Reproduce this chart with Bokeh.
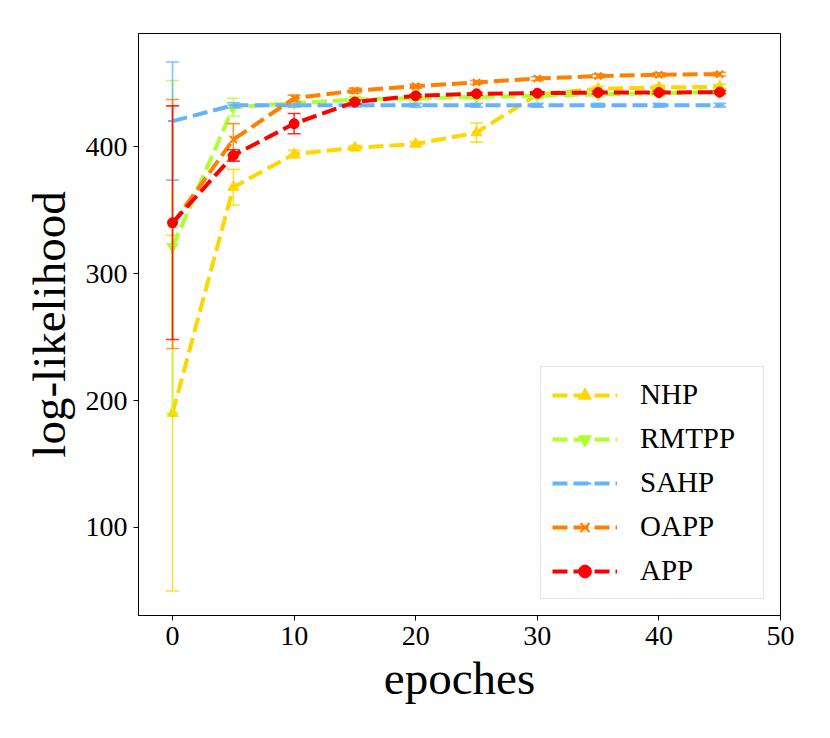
from bokeh.plotting import figure
from bokeh.models import Range1d, Legend, LegendItem, FixedTicker
from bokeh.embed import file_html
from bokeh.resources import INLINE

epochs = [0, 5, 10, 15, 20, 25, 30, 35, 40, 45]

nhp = [190, 368, 394, 399, 402, 411, 441, 445.5, 446.5, 447]
nhp_err = [140, 14, 3, 2, 2, 7.5, 2, 2, 2, 2]

rmtpp = [321, 431, 434, 437, 438, 439, 440, 441, 442, 443]
rmtpp_err = [131, 7, 2, 2, 2, 2, 2, 2, 2, 2]

sahp = [420, 432.5, 432.5, 432.5, 432.5, 432.5, 432.5, 432.5, 432.5, 432.5]
sahp_err = [46.5, 2, 1.5, 1.5, 1.5, 1.5, 1.5, 1.5, 1.5, 1.5]

oapp = [339, 405.5, 438, 444, 447.5, 450.5, 453.5, 455.5, 456.5, 457]
oapp_err = [98, 12.5, 2.5, 2, 1.5, 1.5, 1.5, 1.5, 1.5, 1.5]

app = [340, 393, 418, 435, 440, 441.5, 442, 442.5, 442.5, 442.8]
app_err = [92, 4.5, 8, 1.5, 1, 1, 1, 1, 1, 1]

names = ["NHP", "RMTPP", "SAHP", "OAPP", "APP"]
values = [nhp, rmtpp, sahp, oapp, app]
errors = [nhp_err, rmtpp_err, sahp_err, oapp_err, app_err]
colors = ["#FFD700", "#ADFF2F", "#66B2FF", "#FF8000", "#FF0000"]
markers = ["triangle", "inverted_triangle", "dash", "x", "circle"]
msizes = [11, 11, 9, 10, 10]

FONT = "Liberation Serif"

p = figure(width=814, height=722, output_backend="svg", toolbar_location=None,
           x_range=Range1d(-2.8, 50), y_range=Range1d(30.7, 489),
           min_border_left=138, min_border_right=34, min_border_top=33,
           min_border_bottom=107)
p.background_fill_color = "white"
p.border_fill_color = "white"
p.outline_line_color = "black"
p.outline_line_width = 1
p.xgrid.visible = False
p.ygrid.visible = False

for ax in (p.xaxis[0], p.yaxis[0]):
    ax.major_tick_in = 0
    ax.major_tick_out = 5
    ax.minor_tick_line_color = None
    ax.axis_line_color = "black"
    ax.major_tick_line_color = "black"
    ax.major_label_text_font = FONT
    ax.major_label_text_font_size = "28px"
    ax.major_label_text_color = "black"
    ax.axis_label_text_font = FONT
    ax.axis_label_text_font_size = "47px"
    ax.axis_label_text_font_style = "normal"
    ax.axis_label_text_color = "black"
    ax.major_label_standoff = 6

p.xaxis.ticker = FixedTicker(ticks=[0, 10, 20, 30, 40, 50])
p.yaxis.ticker = FixedTicker(ticks=[100, 200, 300, 400])
p.xaxis.axis_label = "epoches"
p.yaxis.axis_label = "log-likelihood"
p.xaxis.axis_label_standoff = 4
p.yaxis.axis_label_standoff = 8

items = []
for name, vals, errs, c, m, ms in zip(names, values, errors, colors, markers, msizes):
    lo = [v - e for v, e in zip(vals, errs)]
    hi = [v + e for v, e in zip(vals, errs)]
    p.segment(x0=epochs, y0=lo, x1=epochs, y1=hi, line_color=c, line_width=1.6, line_alpha=0.8)
    p.scatter(epochs, hi, marker="dash", size=13, line_color=c, line_width=1.6, line_alpha=0.8)
    p.scatter(epochs, lo, marker="dash", size=13, line_color=c, line_width=1.6, line_alpha=0.8)
    rl = p.line(epochs, vals, line_color=c, line_width=4, line_dash="15 6")
    if m in ("x", "dash"):
        rm = p.scatter(epochs, vals, marker=m, size=ms, line_color=c, line_width=2)
    else:
        rm = p.scatter(epochs, vals, marker=m, size=ms, line_color=c, fill_color=c)
    items.append(LegendItem(label=name, renderers=[rl, rm]))

legend = Legend(items=items, location="bottom_right")
legend.label_text_font = FONT
legend.label_text_font_size = "29px"
legend.label_text_color = "black"
legend.glyph_width = 65
legend.glyph_height = 32
legend.spacing = 11
legend.padding = 11
legend.margin = 16
legend.label_standoff = 23
legend.label_width = 112
legend.border_line_color = "#cccccc"
legend.border_line_width = 1.5
legend.background_fill_alpha = 0.8
p.add_layout(legend)

open("out.html", "w").write(file_html(p, INLINE))
